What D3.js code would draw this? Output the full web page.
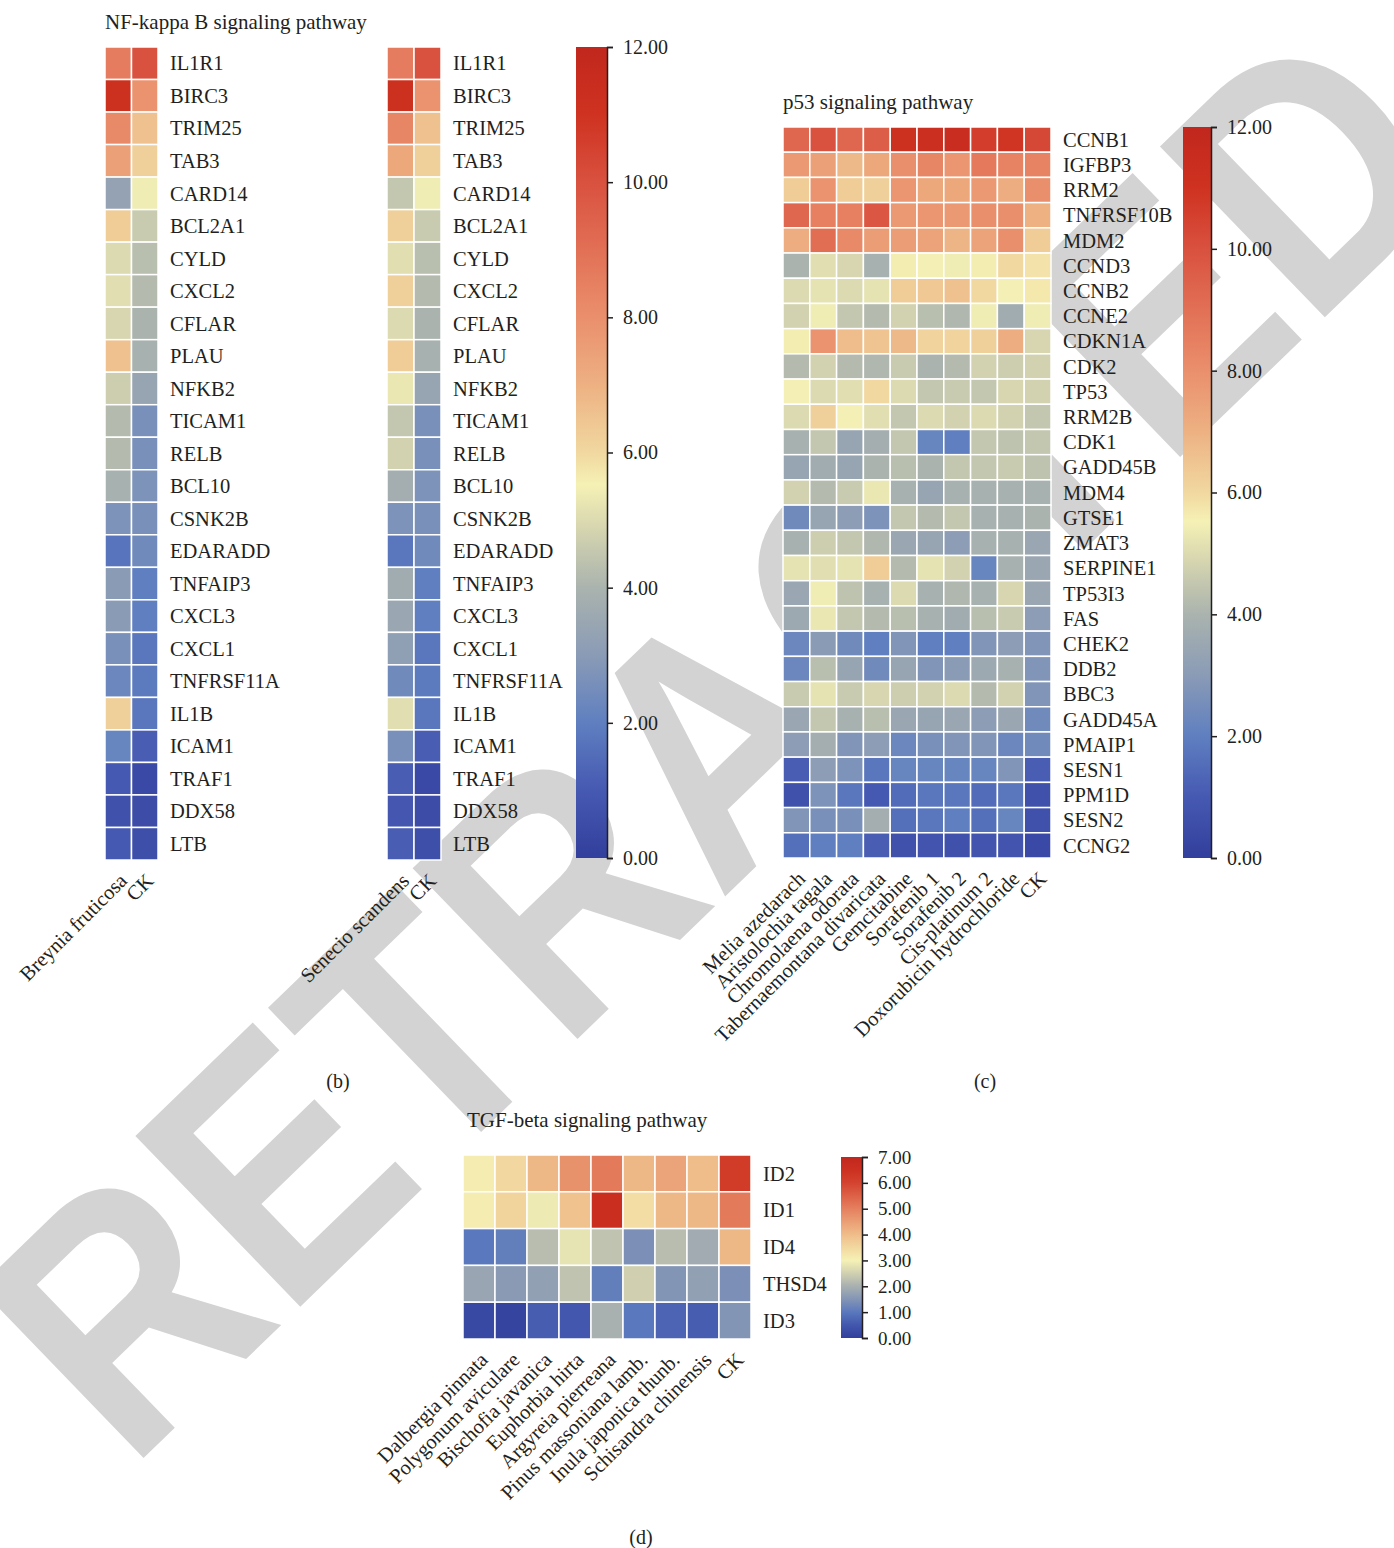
<!DOCTYPE html>
<html>
<head>
<meta charset="utf-8">
<script src="https://cdn.jsdelivr.net/npm/d3@7"></script>
<style>
  body { margin: 0; background: #fff; }
  svg { display: block; }
  text { font-family: "Liberation Serif", "DejaVu Serif", serif; fill: #231f20; }
</style>
</head>
<body>
<script>
// NF-kappa B panel
const nfGenes = ["IL1R1","BIRC3","TRIM25","TAB3","CARD14","BCL2A1","CYLD","CXCL2","CFLAR","PLAU","NFKB2","TICAM1","RELB","BCL10","CSNK2B","EDARADD","TNFAIP3","CXCL3","CXCL1","TNFRSF11A","IL1B","ICAM1","TRAF1","DDX58","LTB"];
const nfBreynia = [8.6,11.2,8.2,7.5,3.3,6.3,5.0,5.1,4.9,6.6,4.7,4.2,4.2,3.9,2.7,1.7,3.0,3.0,2.6,2.3,6.2,2.2,1.0,0.7,1.0];
const nfSenecio = [8.6,11.2,8.3,7.3,4.5,6.2,5.1,6.2,5.0,6.3,5.3,4.5,4.8,3.8,2.7,1.8,3.7,3.5,3.2,2.4,5.1,2.6,1.1,0.9,1.1];
const nfCK      = [10.0,7.9,6.6,6.2,5.4,4.6,4.3,4.2,4.0,3.9,3.4,2.6,2.6,2.7,2.6,2.4,2.0,2.0,1.8,1.9,1.8,1.1,0.4,0.5,0.6];
const nfTicks = [0,2,4,6,8,10,12];

// p53 panel
const p53Samples = ["Melia azedarach","Aristolochia tagala","Chromolaena odorata","Tabernaemontana divaricata","Gemcitabine","Sorafenib 1","Sorafenib 2","Cis-platinum 2","Doxorubicin hydrochloride","CK"];
const p53Genes = ["CCNB1","IGFBP3","RRM2","TNFRSF10B","MDM2","CCND3","CCNB2","CCNE2","CDKN1A","CDK2","TP53","RRM2B","CDK1","GADD45B","MDM4","GTSE1","ZMAT3","SERPINE1","TP53I3","FAS","CHEK2","DDB2","BBC3","GADD45A","PMAIP1","SESN1","PPM1D","SESN2","CCNG2"];
const p53Values = [
  [9.3,10.0,9.3,9.6,11.2,11.3,11.5,10.6,10.9,10.3],
  [7.7,7.5,6.8,7.3,8.0,8.3,7.8,8.7,8.4,8.4],
  [6.3,7.9,6.3,6.2,7.8,7.3,7.3,7.7,7.1,8.0],
  [9.3,8.5,8.5,9.8,7.7,7.8,7.7,8.0,8.0,7.0],
  [7.1,9.1,8.2,7.6,7.6,7.4,6.9,7.4,8.0,6.3],
  [4.0,5.1,4.9,3.9,5.6,5.5,5.4,5.6,6.0,5.8],
  [5.0,5.2,5.0,5.2,6.3,6.4,6.6,6.0,5.5,5.7],
  [4.8,5.4,4.5,4.2,4.8,4.3,4.1,5.4,3.7,5.4],
  [5.6,7.9,6.7,6.5,6.8,6.1,6.1,6.2,7.1,4.9],
  [4.2,4.8,4.2,4.1,4.6,4.0,4.2,4.8,4.7,4.8],
  [5.5,5.0,5.1,6.0,5.0,4.5,4.6,4.5,4.9,4.8],
  [5.0,6.2,5.5,5.1,4.5,5.0,4.8,5.0,4.8,4.5],
  [3.9,4.5,3.4,3.8,4.5,2.2,2.0,4.5,4.4,4.5],
  [3.4,3.7,3.4,4.0,4.3,4.0,4.5,4.5,4.6,4.4],
  [4.8,4.2,4.6,5.3,3.9,3.4,3.9,3.9,3.9,3.9],
  [2.4,3.4,3.1,2.7,4.5,4.2,4.5,3.9,3.9,4.0],
  [3.9,4.7,4.5,4.1,3.5,3.4,3.1,3.9,3.9,3.5],
  [5.2,5.1,5.2,6.3,4.2,5.2,4.8,2.2,3.9,3.5],
  [3.5,5.4,4.4,3.9,5.0,3.9,4.1,3.9,4.9,3.5],
  [3.6,5.3,4.5,4.2,4.3,3.9,3.7,4.3,4.6,3.1],
  [2.3,3.0,2.4,2.0,2.8,2.0,2.0,2.8,3.1,2.8],
  [2.3,4.3,3.4,2.4,3.4,2.8,3.0,3.6,3.9,2.8],
  [4.6,5.2,4.6,4.9,4.7,4.8,5.0,4.2,4.8,2.8],
  [3.5,4.5,3.9,4.3,3.5,3.4,3.5,3.1,3.5,2.4],
  [3.1,3.8,2.8,3.1,2.3,2.6,2.8,2.8,2.3,2.4],
  [1.1,3.1,2.7,1.8,2.2,2.2,2.2,2.2,2.8,1.1],
  [0.7,2.7,1.8,1.0,1.5,1.8,1.8,1.5,1.8,0.7],
  [2.8,2.6,2.6,3.8,1.6,1.8,2.0,1.6,2.2,0.7],
  [1.6,2.0,2.0,1.1,0.7,0.8,0.7,0.8,0.8,0.4]
];
const p53Ticks = [0,2,4,6,8,10,12];

// TGF-beta panel
const tgfSamples = ["Dalbergia pinnata","Polygonum aviculare","Bischofia javanica","Euphorbia hirta","Argyreia pierreana","Pinus massoniana lamb.","Inula japonica thunb.","Schisandra chinensis","CK"];
const tgfGenes = ["ID2","ID1","ID4","THSD4","ID3"];
const tgfValues = [
  [3.1,3.5,4.1,4.7,5.1,4.1,4.4,4.0,6.2],
  [3.1,3.6,2.9,3.9,6.6,3.4,4.1,4.1,5.1],
  [1.0,1.1,2.2,2.8,2.3,1.4,2.2,1.9,4.1],
  [1.8,1.6,1.7,2.3,1.1,2.5,1.5,1.7,1.4],
  [0.2,0.1,0.6,0.5,2.0,1.0,0.7,0.6,1.5]
];
const tgfTicks = [0,1,2,3,4,5,6,7];

// colour ramps, positions are fractions of the colorbar max
const rampPos = [0,0.083,0.167,0.25,0.333,0.41,0.46,0.5,0.583,0.667,0.833,0.917,1];
const rampCol = ["#323f9c","#4659b2","#5f7fc0","#8a9bb6","#aab3ae","#d8d7b0","#f5f1b5","#f1d8a0","#edb182","#ea8f6c","#d9513f","#cf3220","#c1271d"];
const tgfRampPos = [0,0.071,0.143,0.214,0.286,0.357,0.429,0.5,0.571,0.714,0.857,0.93,1];
const tgfRampCol = ["#323f9c","#4257ad","#5a78bd","#8395b5","#a8b0b0","#d0d0b0","#f5f1b5","#f2d8a0","#efbd8a","#e5805f","#d4432f","#cc3020","#c1271d"];

function colorScale(max, pos, col) {
  return d3.scaleLinear().domain(pos.map(p => p * max)).range(col).clamp(true);
}

const svg = d3.select("body").append("svg")
  .attr("width", 1394).attr("height", 1548);

// watermark behind everything
svg.append("text")
  .attr("transform", "translate(715,740) rotate(-44)")
  .attr("text-anchor", "middle")
  .attr("dominant-baseline", "central")
  .style("font-family", "Liberation Sans, Arial, sans-serif")
  .style("font-weight", "bold")
  .style("font-size", "345px")
  .style("fill", "#d3d3d3")
  .attr("textLength", 1860)
  .attr("lengthAdjust", "spacingAndGlyphs")
  .text("RETRACTED");

function heatmap(opt) {
  const g = svg.append("g");
  const x = d3.scaleBand().domain(opt.cols).range([opt.x0, opt.x1]);
  const y = d3.scaleBand().domain(opt.rows).range([opt.y0, opt.y1]);
  const color = colorScale(opt.max, opt.pos, opt.col);
  const cells = [];
  opt.rows.forEach((r, i) => opt.cols.forEach((c, j) => cells.push({r, c, v: opt.values[i][j]})));
  g.selectAll("rect.cell").data(cells).enter().append("rect")
    .attr("class", "cell")
    .attr("x", d => x(d.c)).attr("y", d => y(d.r))
    .attr("width", x.bandwidth()).attr("height", y.bandwidth())
    .attr("fill", d => color(d.v))
    .attr("stroke", "#fff").attr("stroke-width", 1.5);
  g.selectAll("text.row").data(opt.rows).enter().append("text")
    .attr("class", "row")
    .attr("x", opt.x1 + 12)
    .attr("y", d => y(d) + y.bandwidth() / 2)
    .attr("dy", "0.35em")
    .style("font-size", opt.fs + "px")
    .text(d => d);
  g.selectAll("text.col").data(opt.cols).enter().append("text")
    .attr("class", "col")
    .attr("text-anchor", "end")
    .attr("transform", d => "translate(" + (x(d) + x.bandwidth() / 2 + 10) + "," + (opt.y1 + 22) + ") rotate(-45)")
    .style("font-size", opt.fs + "px")
    .text(d => d);
  if (opt.title) {
    g.append("text").attr("x", opt.tx || opt.x0).attr("y", opt.y0 - opt.titleGap)
      .style("font-size", "21px").text(opt.title);
  }
}

function colorbar(opt) {
  const id = "grad" + opt.id;
  const grad = svg.append("defs").append("linearGradient")
    .attr("id", id).attr("x1", 0).attr("y1", 1).attr("x2", 0).attr("y2", 0);
  opt.pos.forEach((p, i) => grad.append("stop").attr("offset", p).attr("stop-color", opt.col[i]));
  svg.append("rect").attr("x", opt.x).attr("y", opt.y0)
    .attr("width", opt.w).attr("height", opt.y1 - opt.y0)
    .attr("fill", "url(#" + id + ")");
  const s = d3.scaleLinear().domain([0, opt.max]).range([opt.y1, opt.y0]);
  const ax = svg.append("g")
    .attr("transform", "translate(" + (opt.x + opt.w) + ",0)")
    .call(d3.axisRight(s).tickValues(opt.ticks).tickFormat(d3.format(".2f")).tickSize(6).tickPadding(10));
  ax.select(".domain").attr("stroke", "#231f20").attr("stroke-width", 1.5);
  ax.selectAll(".tick line").attr("stroke", "#231f20").attr("stroke-width", 1.5);
  ax.selectAll("text").style("font-family", "Liberation Serif, serif")
    .style("font-size", opt.fs + "px").attr("fill", "#231f20");
}

heatmap({cols: ["Breynia fruticosa", "CK"], rows: nfGenes,
  values: nfGenes.map((g, i) => [nfBreynia[i], nfCK[i]]),
  x0: 105, x1: 158, y0: 47, y1: 860, max: 12, fs: 20.5, pos: rampPos, col: rampCol,
  title: "NF-kappa B signaling pathway", titleGap: 18});
heatmap({cols: ["Senecio scandens", "CK"], rows: nfGenes,
  values: nfGenes.map((g, i) => [nfSenecio[i], nfCK[i]]),
  x0: 387, x1: 441, y0: 47, y1: 860, max: 12, fs: 20.5, pos: rampPos, col: rampCol});
colorbar({id: "nf", x: 576, w: 31, y0: 47, y1: 858, max: 12, ticks: nfTicks, fs: 20, pos: rampPos, col: rampCol});

heatmap({cols: p53Samples, rows: p53Genes, values: p53Values,
  x0: 783, x1: 1051, y0: 127, y1: 858, max: 12, fs: 20.5, pos: rampPos, col: rampCol,
  title: "p53 signaling pathway", titleGap: 18});
colorbar({id: "p53", x: 1183, w: 28, y0: 127, y1: 858, max: 12, ticks: p53Ticks, fs: 20, pos: rampPos, col: rampCol});

heatmap({cols: tgfSamples, rows: tgfGenes, values: tgfValues,
  x0: 463, x1: 751, y0: 1155, y1: 1339, max: 7, fs: 20.5, pos: tgfRampPos, col: tgfRampCol,
  title: "TGF-beta signaling pathway", titleGap: 28, tx: 467});
colorbar({id: "tgf", x: 841, w: 21, y0: 1157, y1: 1338, max: 7, ticks: tgfTicks, fs: 19, pos: tgfRampPos, col: tgfRampCol});

// panel letters
[["(b)", 338, 1088], ["(c)", 985, 1088], ["(d)", 641, 1544]].forEach(p => {
  svg.append("text").attr("x", p[1]).attr("y", p[2]).attr("text-anchor", "middle")
    .style("font-size", "20px").text(p[0]);
});
</script>
</body>
</html>
